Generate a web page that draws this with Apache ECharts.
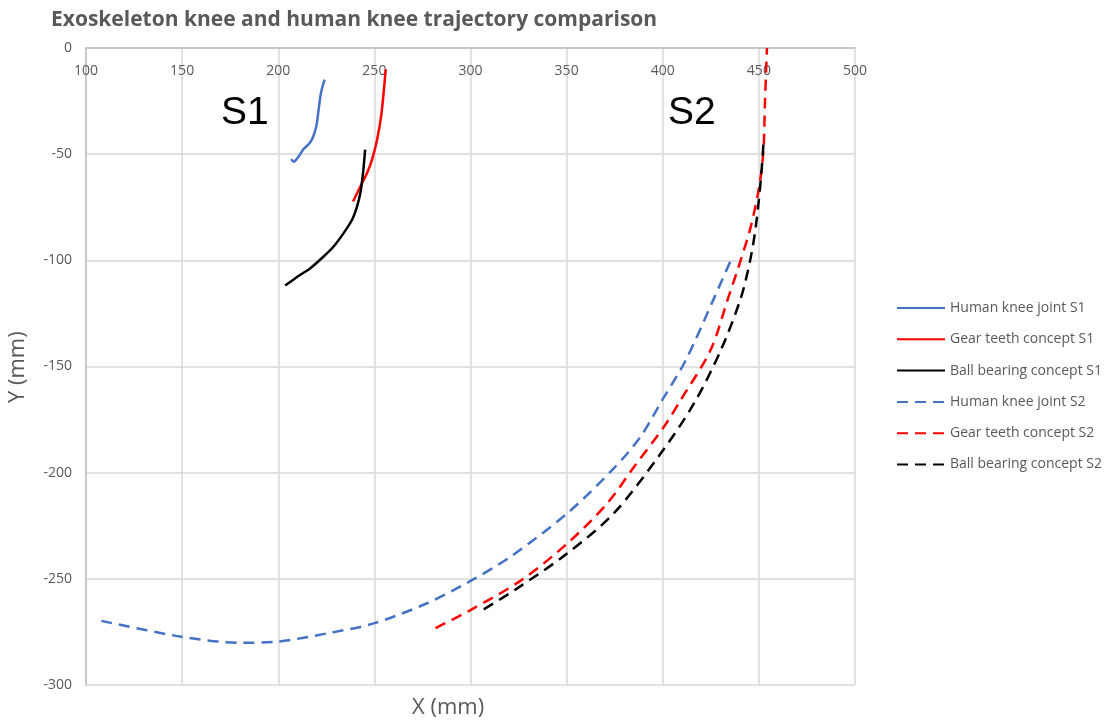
<!DOCTYPE html>
<html><head><meta charset="utf-8">
<script src="https://cdn.jsdelivr.net/npm/echarts@6/dist/echarts.min.js"></script>
<style>html,body{margin:0;padding:0;background:#fff}#c{width:1115px;height:726px}</style>
</head><body><div id="c"></div>
<script>
const xTicks = [100,150,200,250,300,350,400,450,500];
const yTicks = [-300,-250,-200,-150,-100,-50,0];
const seriesNames = ['Human knee joint S1','Gear teeth concept S1','Ball bearing concept S1','Human knee joint S2','Gear teeth concept S2','Ball bearing concept S2'];
const humanS1 = [[206.8,-52.3],[208.0,-53.6],[210.6,-51.1],[213.2,-47.6],[216.3,-44.8],[218.1,-41.9],[219.8,-36.9],[221.0,-29.1],[222.2,-21.2],[224.1,-14.9]];
const gearS1 = [[238.9,-72.3],[242.7,-65.2],[246.2,-58.9],[248.8,-52.6],[251.4,-43.2],[253.5,-32.2],[254.8,-21.2],[255.9,-10.0]];
const ballS1 = [[203.6,-111.9],[211.5,-106.8],[216.7,-103.7],[223.6,-98.2],[228.8,-93.5],[234.0,-87.2],[238.4,-80.9],[241.0,-74.6],[242.7,-68.3],[244.1,-58.9],[245.2,-47.9]];
const humanS2 = [[108.0,-269.8],[149.8,-277.3],[180.2,-280.1],[199.3,-279.6],[225.4,-275.7],[249.6,-271.0],[277.4,-261.5],[300.0,-251.0],[320.8,-239.6],[350.4,-219.1],[374.6,-197.9],[388.5,-183.0],[399.8,-165.7],[412.0,-147.0],[426.7,-117.8],[435.1,-100.6]];
const gearS2 = [[281.8,-273.2],[300.0,-264.7],[326.5,-250.6],[350.4,-233.3],[371.2,-214.4],[385.1,-197.2],[400.7,-178.3],[409.4,-165.7],[425.0,-142.0],[434.0,-117.8],[440.6,-99.8],[445.8,-84.1],[450.2,-65.2],[452.4,-47.9],[453.1,-27.5],[454.2,0]];
const ballS2 = [[306.9,-264.4],[324.3,-254.5],[350.4,-238.0],[374.6,-219.1],[399.0,-190.9],[416.3,-167.3],[430.2,-142.3],[440.6,-117.8],[445.5,-99.8],[448.4,-84.1],[451.0,-62.1],[452.4,-44.8]];
const seriesData = [humanS1, gearS1, ballS1, humanS2, gearS2, ballS2];
const colors = ['#4472C4','#FF0000','#000000','#4472C4','#FF0000','#000000'];

const chart = echarts.init(document.getElementById('c'));
const gray = '#595959';
chart.setOption({
  animation: false,
  title: { text: 'Exoskeleton knee and human knee trajectory comparison', left: 46, top: 5,
    textStyle: { fontFamily: 'Open Sans', fontWeight: 'bold', fontSize: 21, color: gray } },
  grid: { left: 86, right: 260, top: 48, bottom: 41 },
  legend: { orient: 'vertical', left: 891, top: 296, itemWidth: 48, itemHeight: 10, itemGap: 17.3,
    itemStyle: { opacity: 0 },
    textStyle: { fontFamily: 'Open Sans', fontSize: 14, color: gray },
    data: seriesNames },
  xAxis: { type: 'value', position: 'top', min: xTicks[0], max: xTicks[xTicks.length-1], interval: 50,
    axisLine: { show: true, onZero: false, lineStyle: { color: '#bfbfbf', width: 1.5 } },
    axisTick: { show: false },
    axisLabel: { inside: true, color: gray, fontSize: 14, fontFamily: 'Open Sans', margin: 16 },
    splitLine: { show: true, lineStyle: { color: '#d9d9d9', width: 1.5 } } },
  yAxis: { type: 'value', min: yTicks[0], max: yTicks[yTicks.length-1], interval: 50,
    axisLine: { show: true, lineStyle: { color: '#bfbfbf', width: 1.5 } },
    axisTick: { show: false },
    axisLabel: { color: gray, fontSize: 14, fontFamily: 'Open Sans', margin: 14 },
    splitLine: { show: true, lineStyle: { color: '#d9d9d9', width: 1.5 } } },
  graphic: [
    { type: 'text', left: 412, top: 697, style: { text: 'X (mm)', font: '22px "Open Sans"', fill: gray } },
    { type: 'text', x: 7, y: 403, rotation: Math.PI/2, style: { text: 'Y (mm)', font: '22px "Open Sans"', fill: gray } },
    { type: 'text', left: 221, top: 94, style: { text: 'S1', font: '39px "Liberation Sans"', fill: '#000' } },
    { type: 'text', left: 668, top: 94, style: { text: 'S2', font: '39px "Liberation Sans"', fill: '#000' } }
  ],
  series: seriesNames.map((n, i) => ({
    name: n, type: 'line', data: seriesData[i], symbol: 'none', smooth: 0.3, clip: false,
    lineStyle: { color: colors[i], width: 2.5, type: i < 3 ? 'solid' : [11, 7] },
    itemStyle: { color: colors[i] }
  }))
});
</script></body></html>
